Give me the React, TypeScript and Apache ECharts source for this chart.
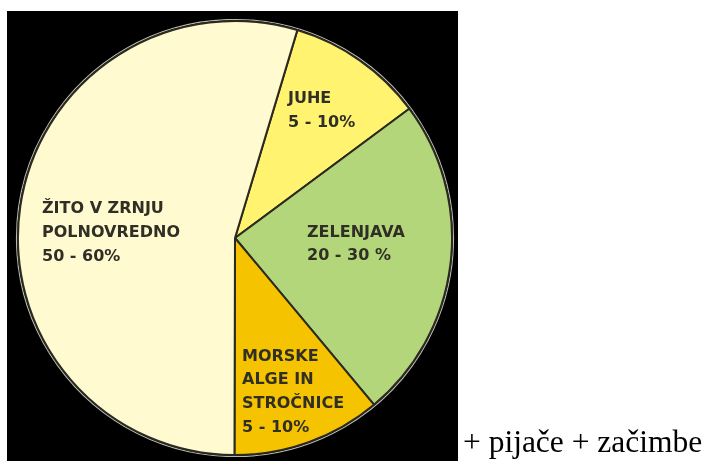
import React, { useEffect, useRef } from "react";
import * as echarts from "echarts";

// Slice sizes (degrees, expressed as shares)
const categories = ["JUHE", "ZELENJAVA", "MORSKE ALGE IN STROČNICE", "ŽITO V ZRNJU POLNOVREDNO"];
const values = [10.2, 24.1, 11.1, 54.6];
const colors = ["#FFF370", "#B3D67B", "#F6C300", "#FFFACF"];
// Label lines drawn inside the slices
const labelLines = [
  ["JUHE", "5 - 10%"],
  ["ZELENJAVA", "20 - 30 %"],
  ["MORSKE", "ALGE IN", "STROČNICE", "5 - 10%"],
  ["ŽITO V ZRNJU", "POLNOVREDNO", "50 - 60%"],
];
const footnote = "+ pijače + začimbe";

// layout (positions only)
const labelPos = [
  { x: 288, y: 103, step: 24 },
  { x: 307, y: 237, step: 23 },
  { x: 242, y: 361, step: 23.7 },
  { x: 42, y: 213, step: 24 },
];

export default function App() {
  const ref = useRef<HTMLDivElement>(null);
  useEffect(() => {
    const chart = echarts.init(ref.current!, null, { renderer: "svg" });
    const texts: any[] = [];
    labelLines.forEach((lines, i) => {
      lines.forEach((t, j) => {
        texts.push({
          type: "text",
          x: labelPos[i].x,
          y: labelPos[i].y + j * labelPos[i].step - 6,
          z: 100,
          style: {
            text: t,
            fill: "#302f26",
            font: "bold 16px 'DejaVu Sans'",
            textAlign: "left",
            textVerticalAlign: "middle",
          },
        });
      });
    });
    chart.setOption({
      animation: false,
      graphic: [
        { type: "rect", z: -10, shape: { x: 7, y: 11, width: 451, height: 450 }, style: { fill: "#000" } },
        {
          type: "circle",
          z: -5,
          shape: { cx: 235, cy: 238, r: 218.5 },
          style: { fill: "none", stroke: "#b8b8b0", lineWidth: 1.2 },
        },
        {
          type: "text",
          x: 463,
          y: 457,
          style: {
            text: footnote,
            fill: "#000",
            font: "31.5px 'Liberation Serif'",
            textAlign: "left",
            textVerticalAlign: "bottom",
          },
        },
        ...texts,
      ],
      series: [
        {
          type: "pie",
          center: [235, 238],
          radius: [0, 217],
          startAngle: 73.3,
          clockwise: true,
          label: { show: false },
          labelLine: { show: false },
          emphasis: { disabled: true },
          itemStyle: { borderColor: "#2b2a20", borderWidth: 2 },
          data: categories.map((n, i) => ({ name: n, value: values[i], itemStyle: { color: colors[i] } })),
        },
      ],
    });
    return () => chart.dispose();
  }, []);
  return <div ref={ref} style={{ position: "fixed", left: 0, top: 0, width: 710, height: 464 }} />;
}
